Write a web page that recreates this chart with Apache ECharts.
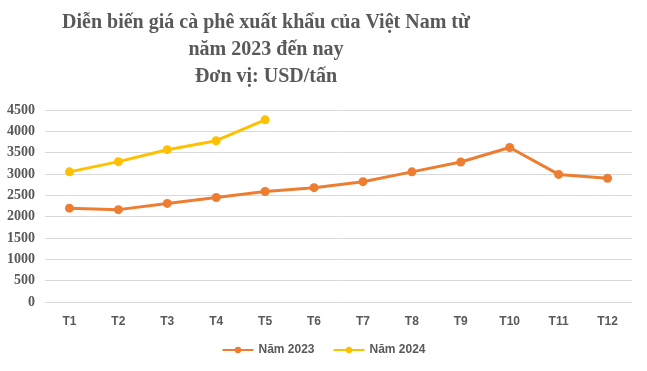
<!DOCTYPE html>
<html>
<head>
<meta charset="utf-8">
<script src="https://cdn.jsdelivr.net/npm/echarts@6/dist/echarts.min.js"></script>
<style>html,body{margin:0;padding:0;background:#fff}#c{width:647px;height:371px}</style>
</head>
<body>
<div id="c"></div>
<script>
const categories = ['T1','T2','T3','T4','T5','T6','T7','T8','T9','T10','T11','T12'];
const values2023 = [2200, 2165, 2310, 2450, 2590, 2680, 2820, 3050, 3280, 3620, 2990, 2900];
const values2024 = [3050, 3290, 3570, 3780, 4270];
const yTicks = [0, 500, 1000, 1500, 2000, 2500, 3000, 3500, 4000, 4500];
const seriesNames = ['Năm 2023', 'Năm 2024'];
const titleText = 'Diễn biến giá cà phê xuất khẩu của Việt Nam từ\nnăm 2023 đến nay\nĐơn vị: USD/tấn';

const chart = echarts.init(document.getElementById('c'));
chart.setOption({
  animation: false,
  backgroundColor: '#fff',
  title: {
    text: titleText,
    left: 261,
    top: 4,
    textAlign: 'center',
    textStyle: {
      fontFamily: 'Liberation Serif',
      fontWeight: 'bold',
      fontSize: 20,
      color: '#595959',
      lineHeight: 27
    }
  },
  grid: { left: 45, right: 15, top: 110, bottom: 69, containLabel: false },
  legend: {
    data: seriesNames,
    bottom: 10,
    left: 'center',
    itemWidth: 31,
    itemHeight: 8,
    itemGap: 18,
    textStyle: { fontFamily: 'Liberation Sans', fontWeight: 'bold', fontSize: 12, color: '#595959' }
  },
  xAxis: {
    type: 'category',
    data: categories,
    boundaryGap: true,
    axisLine: { show: true, lineStyle: { color: '#D9D9D9' } },
    axisTick: { show: false },
    axisLabel: { margin: 14, fontFamily: 'Liberation Sans', fontWeight: 'bold', fontSize: 12, color: '#595959' }
  },
  yAxis: {
    type: 'value',
    min: yTicks[0],
    max: yTicks[yTicks.length - 1],
    interval: 500,
    axisLine: { show: false },
    axisTick: { show: false },
    splitLine: { lineStyle: { color: '#D9D9D9', width: 1 } },
    axisLabel: {
      margin: 10, fontFamily: 'Liberation Serif', fontWeight: 'bold', fontSize: 14, color: '#595959',
      formatter: function (v) { return String(v); }
    }
  },
  series: [
    {
      name: seriesNames[0], type: 'line', data: values2023,
      symbol: 'circle', symbolSize: 9,
      lineStyle: { width: 3, color: '#ED7D31' },
      itemStyle: { color: '#ED7D31' }
    },
    {
      name: seriesNames[1], type: 'line', data: values2024,
      symbol: 'circle', symbolSize: 9,
      lineStyle: { width: 3, color: '#FFC000' },
      itemStyle: { color: '#FFC000' }
    }
  ]
});
</script>
</body>
</html>
